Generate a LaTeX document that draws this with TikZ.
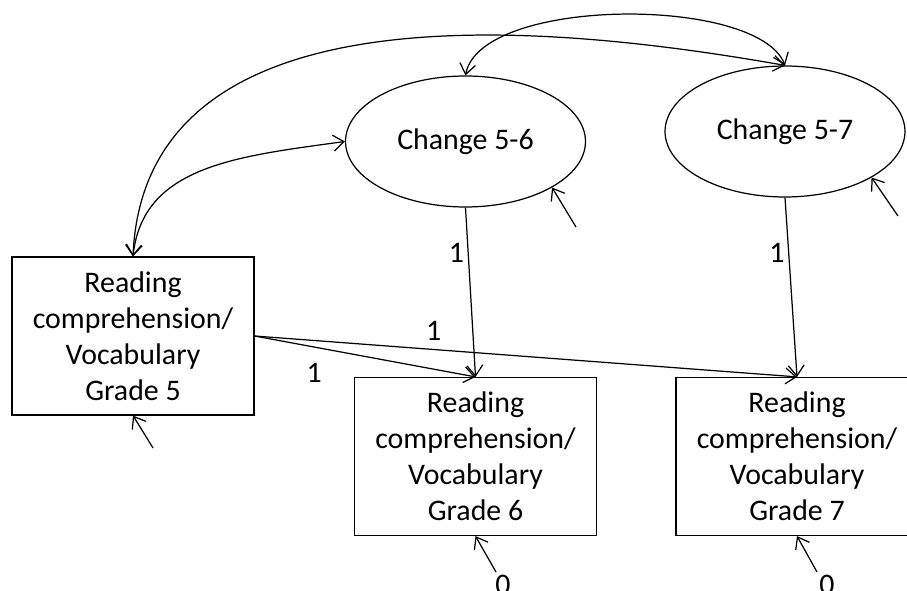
\documentclass[tikz,border=0pt]{standalone}
\usepackage{fontspec}
\setmainfont{Carlito}
\usetikzlibrary{shapes.geometric,arrows.meta}

\begin{document}
\begin{tikzpicture}[x=0.02cm,y=-0.02cm,line width=0.7pt,
  >={Straight Barb[length=6pt,width=9pt]},
  every node/.style={font=\fontsize{17}{20.5}\selectfont},
  measure/.style={draw,align=center,minimum width=4.84cm,minimum height=3.16cm,inner sep=0pt},
  latent/.style={draw,ellipse,minimum width=4.8cm,minimum height=2.62cm,inner sep=0pt},
  weight/.style={inner sep=2pt}]
\useasboundingbox (0,0) rectangle (907,591);
% observed scores
\node[measure] (g5) at (133,336) {Reading\\comprehension/\\Vocabulary\\Grade 5};
\node[measure] (g6) at (475.5,456.5) {Reading\\comprehension/\\Vocabulary\\Grade 6};
\node[measure] (g7) at (797,456.5) {Reading\\comprehension/\\Vocabulary\\Grade 7};
% change factors
\node[latent] (c56) at (465.5,141.5) {Change 5-6};
\node[latent] (c57) at (785,131.5) {Change 5-7};
% loadings
\draw[->] (c56.south) -- node[weight,pos=0.27,left]{1} (g6.north);
\draw[->] (c57.south) -- node[weight,pos=0.31,left]{1} (g7.north);
\draw[->] (g5.east) -- node[weight,pos=0.27,below=7pt]{1} (g6.north);
\draw[->] (g5.east) -- node[weight,pos=0.33,above=3pt]{1} (g7.north);
% covariances
\draw[<->] (g5.north) .. controls +(10,-90) and +(-110,15) .. (c56.west);
\draw[<->] (g5.north) .. controls +(12,-277) and +(-227,-40) .. (c57.north);
\draw[<->] (c56.north) .. controls +(15,-79) and +(-27,-70) .. (c57.north);
% residuals
\coordinate (e5) at (153,448);
\coordinate (e6) at (496,572);
\coordinate (e7) at (817,572);
\coordinate (d56) at (576,227);
\coordinate (d57) at (898,216);
\draw[->] (e5) -- (g5.south);
\draw[->] (e6) -- (g6.south);
\draw[->] (e7) -- (g7.south);
\draw[->] (d56) -- (c56.-28);
\draw[->] (d57) -- (c57.-28);
\node (z6) at (503,585) {0};
\node (z7) at (827,585) {0};
\end{tikzpicture}
\end{document}
